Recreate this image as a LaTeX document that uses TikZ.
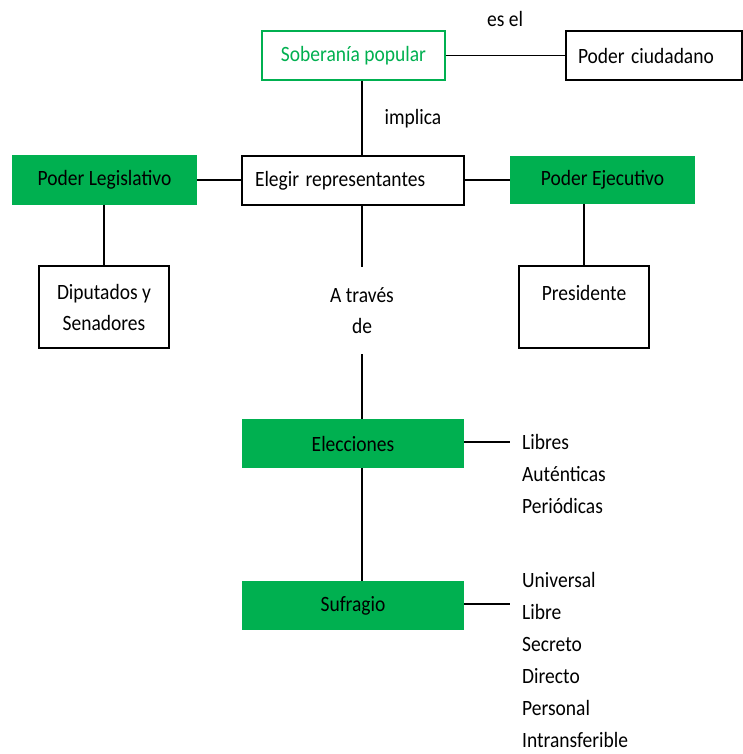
\documentclass[tikz,border=0pt]{standalone}
\usepackage{graphicx}
\usepackage{fontspec}
\setmainfont{Carlito}
\definecolor{vgreen}{HTML}{00B050}
\newcommand\tx[1]{\scalebox{1}[1.12]{#1}}
\begin{document}
\begin{tikzpicture}[x=1pt,y={(0pt,-1pt)},
  every node/.style={font=\fontsize{19.5}{31}\selectfont, inner sep=0pt},
  box/.style={draw=black, line width=1.2pt, rectangle, fill=white},
  gbox/.style={rectangle, fill=vgreen, text=black},
  conn/.style={draw=black, line width=1.3pt}
]
\useasboundingbox (0,0) rectangle (743,754);
% top
\node[box, draw=vgreen, text=vgreen, minimum width=183pt, minimum height=49pt] (sob) at (353.5,55.5) {\tx{Soberanía popular}};
\node[box, minimum height=49pt, text width=152pt, inner xsep=12pt, align=left] (pc) at (654,55.5) {\tx{Poder ciudadano}};
\node (esel) at (505,19) {\tx{es el}};
\node (impl) at (413,119) {\tx{implica}};
% middle row
\node[box, minimum height=49pt, text width=196pt, inner xsep=13pt, align=left] (ele) at (353,180.5) {\tx{Elegir representantes}};
\node[gbox, minimum width=185pt, minimum height=49pt] (leg) at (104.5,180) {\tx{Poder Legislativo}};
\node[gbox, minimum width=185pt, minimum height=48pt] (eje) at (602.5,180) {\tx{Poder Ejecutivo}};
\node[box, minimum width=130pt, minimum height=82pt, align=center] (dip) at (104,307) {\tx{Diputados y}\\\tx{Senadores}};
\node[box, minimum width=130pt, minimum height=82pt, align=center] (pres) at (584,307) {\tx{Presidente}\\[-12pt]\strut};
\node[minimum height=87pt, align=center] (atr) at (362,310.5) {\tx{A través}\\\tx{de}};
% lower
\node[gbox, minimum width=222pt, minimum height=49pt] (elec) at (353,443.5) {\tx{Elecciones}};
\node[gbox, minimum width=222pt, minimum height=49pt] (suf) at (353,605.5) {\tx{Sufragio}};
\node[anchor=west, align=left, font=\fontsize{19.5}{32}\selectfont] (l1) at (522,474) {\tx{Libres}\\\tx{Auténticas}\\\tx{Periódicas}};
\node[anchor=west, align=left, font=\fontsize{19.5}{32}\selectfont] (l2) at (522,660) {\tx{Universal}\\\tx{Libre}\\\tx{Secreto}\\\tx{Directo}\\\tx{Personal}\\\tx{Intransferible}};
\coordinate (e1) at (510,442);
\coordinate (e2) at (510,604);
% connectors
\draw[conn] (sob.east) -- (pc.west);
\draw[conn] (sob.south -| atr) -- (ele.north -| atr);
\draw[conn] (leg.east) -- (leg.east -| ele.west);
\draw[conn] (eje.west -| ele.east) -- (eje.west);
\draw[conn] (leg.south -| dip) -- (dip.north);
\draw[conn] (eje.south -| pres) -- (pres.north);
\draw[conn] (ele.south -| atr) -- (atr.north);
\draw[conn] (atr.south) -- (elec.north -| atr);
\draw[conn] (elec.south -| atr) -- (suf.north -| atr);
\draw[conn] (elec.east |- e1) -- (e1);
\draw[conn] (suf.east |- e2) -- (e2);
\end{tikzpicture}
\end{document}
